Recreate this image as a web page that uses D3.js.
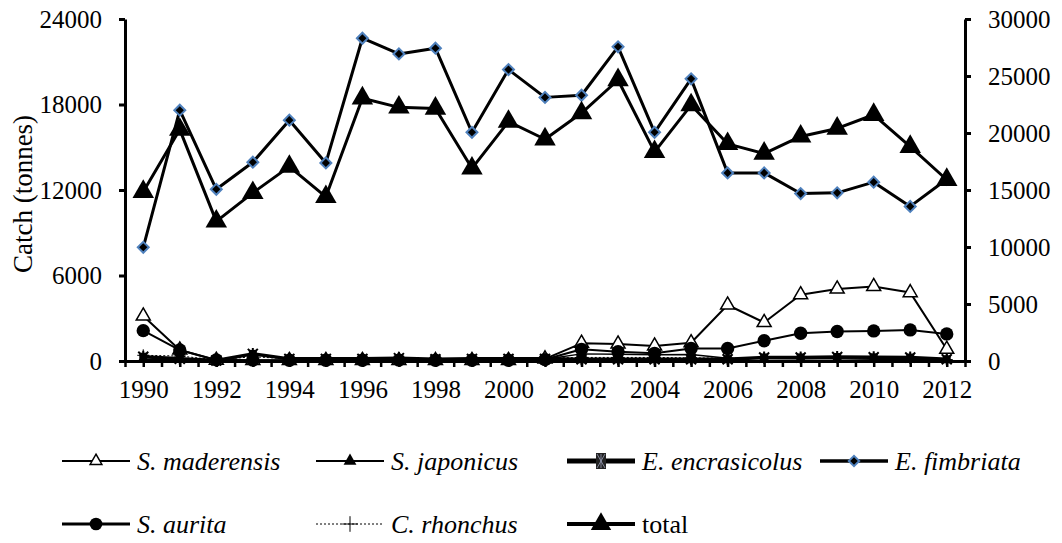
<!DOCTYPE html>
<html>
<head>
<meta charset="utf-8">
<script src="https://cdn.jsdelivr.net/npm/d3@7"></script>
<style>
  html, body { margin: 0; padding: 0; background: #fff; }
  svg { display: block; }
  svg text { font-family: "Liberation Serif", Tinos, "Times New Roman", "DejaVu Serif", serif !important; fill: #000; }
</style>
</head>
<body>
<svg id="chart" width="1062" height="543"></svg>
<script>
// ---- data ----
const years = d3.range(1990, 2013);
const maderensis   = [3160, 770, 50, 40, 30, 30, 30, 30, 30, 30, 30, 150, 1240, 1190, 1050, 1280, 3930, 2700, 4650, 5050, 5230, 4800, 820];
const japonicus    = [100, 80, 30, 40, 30, 30, 40, 40, 30, 40, 40, 120, 500, 470, 430, 460, 200, 180, 150, 150, 130, 110, 80];
const encrasicolus = [300, 150, 40, 500, 150, 150, 150, 200, 120, 150, 150, 150, 120, 120, 120, 120, 120, 250, 250, 280, 260, 240, 120];
const fimbriata    = [7980, 17600, 12050, 13950, 16900, 13900, 22650, 21550, 21950, 16050, 20450, 18500, 18650, 22050, 16050, 19800, 13200, 13200, 11750, 11800, 12550, 10850, 12750];
const aurita       = [2130, 770, 80, 60, 50, 50, 50, 60, 50, 50, 50, 100, 820, 650, 540, 880, 880, 1420, 1950, 2070, 2110, 2180, 1900];
const rhonchus     = [400, 350, 80, 300, 150, 150, 150, 200, 100, 120, 120, 200, 250, 250, 250, 220, 200, 200, 200, 230, 200, 200, 100];
const total        = [14850, 20300, 12250, 14750, 17050, 14400, 23050, 22250, 22150, 16900, 21000, 19450, 21750, 24650, 18350, 22450, 19050, 18200, 19700, 20400, 21600, 18800, 15900];

const leftTicks  = [0, 6000, 12000, 18000, 24000];
const rightTicks = [0, 5000, 10000, 15000, 20000, 25000, 30000];
const yearLabels = d3.range(1990, 2013, 2);
const yTitle = "Catch (tonnes)";

const seriesNames = ["S. maderensis", "S. japonicus", "E. encrasicolus", "E. fimbriata", "S. aurita", "C. rhonchus", "total"];

// ---- layout ----
const FONT = '"Liberation Serif", Tinos, "Times New Roman", "DejaVu Serif", serif';
const svg = d3.select("#chart");
const X0 = 125, X1 = 965, YT = 19, YB = 361;
const x = d3.scaleLinear().domain([1989.5, 2012.5]).range([X0, X1]);
const yL = d3.scaleLinear().domain([0, 24000]).range([YB, YT]);
const yR = d3.scaleLinear().domain([0, 30000]).range([YB, YT]);
const FS = 25;
const fmt = d3.format("d");

const styles = {
  "S. maderensis":   { values: maderensis,   axis: yL, width: 2,   dash: null,  marker: "openTri" },
  "S. japonicus":    { values: japonicus,    axis: yL, width: 1.5, dash: null,  marker: "smallTri" },
  "E. encrasicolus": { values: encrasicolus, axis: yL, width: 3.5, dash: null,  marker: "star" },
  "E. fimbriata":    { values: fimbriata,    axis: yL, width: 3,   dash: null,  marker: "diamond" },
  "S. aurita":       { values: aurita,       axis: yL, width: 2,   dash: null,  marker: "circle" },
  "C. rhonchus":     { values: rhonchus,     axis: yL, width: 1,   dash: "2,2", marker: "plus" },
  "total":           { values: total,        axis: yR, width: 3,   dash: null,  marker: "bigTri" }
};

function drawMarker(g, type, scale) {
  const s = scale || 1;
  if (type === "openTri") {
    g.append("path").attr("d", d3.symbol(d3.symbolTriangle, 85 * s)())
      .attr("fill", "#fff").attr("stroke", "#000").attr("stroke-width", 1.5);
  } else if (type === "smallTri") {
    g.append("path").attr("d", d3.symbol(d3.symbolTriangle, 55 * s)())
      .attr("fill", "#000");
  } else if (type === "bigTri") {
    g.append("path").attr("d", d3.symbol(d3.symbolTriangle, 200 * s)())
      .attr("fill", "#000");
  } else if (type === "circle") {
    g.append("path").attr("d", d3.symbol(d3.symbolCircle, 140 * s)())
      .attr("fill", "#000");
  } else if (type === "diamond") {
    g.append("path").attr("d", d3.symbol(d3.symbolSquare, 60 * s)())
      .attr("transform", "rotate(45)")
      .attr("fill", "#000").attr("stroke", "#4F81BD").attr("stroke-width", 2);
  } else if (type === "plus") {
    const r = 6 * s;
    g.append("path").attr("d", `M${-r},0H${r}M0,${-r}V${r}`)
      .attr("stroke", "#000").attr("stroke-width", 1).attr("fill", "none");
  } else if (type === "star") {
    const r = 5 * s;
    g.append("path").attr("d", d3.symbol(d3.symbolSquare, 64 * s)()).attr("fill", "#000");
    g.append("path").attr("d", `M${-r},${-r}L${r},${r}M${-r},${r}L${r},${-r}M0,${-r - 1}V${r + 1}`)
      .attr("stroke", "#000").attr("stroke-width", 2).attr("fill", "none");
  }
}

// ---- axes ----
const axisStroke = 3;

const xTickVals = d3.range(1989.5, 2012.51, 0.5);
const xAxis = svg.append("g").attr("transform", `translate(0,${YB})`)
  .call(d3.axisBottom(x).tickValues(xTickVals).tickSize(6).tickSizeOuter(0)
    .tickFormat(d => yearLabels.includes(d) ? fmt(d) : ""));
xAxis.attr("font-family", FONT);
xAxis.select(".domain").attr("stroke", "#000").attr("stroke-width", axisStroke);
xAxis.selectAll(".tick line").attr("stroke", "#000").attr("stroke-width", 2.5);
xAxis.selectAll(".tick text").attr("y", 37).attr("dy", 0).attr("font-size", FS);

const lAxis = svg.append("g").attr("transform", `translate(${X0},0)`)
  .call(d3.axisLeft(yL).tickValues(leftTicks).tickFormat(fmt).tickSize(6).tickSizeOuter(0).tickPadding(17));
lAxis.attr("font-family", FONT);
lAxis.select(".domain").attr("stroke", "#000").attr("stroke-width", axisStroke);
lAxis.selectAll(".tick line").attr("stroke", "#000").attr("stroke-width", 3);
lAxis.selectAll(".tick text").attr("font-size", FS);

const rAxis = svg.append("g").attr("transform", `translate(${X1},0)`)
  .call(d3.axisRight(yR).tickValues(rightTicks).tickFormat(fmt).tickSize(6).tickSizeOuter(0).tickPadding(17));
rAxis.attr("font-family", FONT);
rAxis.select(".domain").attr("stroke", "#000").attr("stroke-width", axisStroke);
rAxis.selectAll(".tick line").attr("stroke", "#000").attr("stroke-width", 3);
rAxis.selectAll(".tick text").attr("font-size", FS);

svg.append("text")
  .attr("transform", `translate(23,${(YT + YB) / 2 + 4}) rotate(-90)`)
  .attr("text-anchor", "middle").attr("dy", "0.35em")
  .attr("font-family", FONT)
  .attr("font-size", 27)
  .text(yTitle);

// ---- series ----
const drawOrder = ["C. rhonchus", "S. japonicus", "E. encrasicolus", "S. maderensis", "S. aurita", "E. fimbriata", "total"];
const plot = svg.append("g");
drawOrder.forEach(name => {
  const st = styles[name];
  const line = d3.line().x((d, i) => x(years[i])).y(d => st.axis(d));
  plot.append("path").datum(st.values)
    .attr("d", line).attr("fill", "none")
    .attr("stroke", "#000").attr("stroke-width", st.width)
    .attr("stroke-dasharray", st.dash)
    .attr("stroke-linejoin", "round");
});
drawOrder.forEach(name => {
  const st = styles[name];
  st.values.forEach((v, i) => {
    const g = plot.append("g").attr("transform", `translate(${x(years[i])},${st.axis(v)})`);
    drawMarker(g, st.marker, 1);
  });
});

// ---- legend ----
const legendPos = [
  { x: 62, y: 461 }, { x: 316, y: 461 }, { x: 567, y: 461 }, { x: 820, y: 461 },
  { x: 62, y: 524 }, { x: 316, y: 524 }, { x: 567, y: 524 }
];
const legendLineW = { "S. maderensis": 2, "S. japonicus": 2, "E. encrasicolus": 5, "E. fimbriata": 3.5, "S. aurita": 3, "C. rhonchus": 1, "total": 4 };
const legendMarkScale = { "S. maderensis": 0.7, "S. japonicus": 1.3, "E. encrasicolus": 1.2, "E. fimbriata": 0.9, "S. aurita": 0.9, "C. rhonchus": 1.3, "total": 0.9 };
seriesNames.forEach((name, k) => {
  const st = styles[name];
  const p = legendPos[k];
  const g = svg.append("g").attr("transform", `translate(${p.x},${p.y})`);
  g.append("line").attr("x1", 0).attr("x2", 68).attr("y1", 0).attr("y2", 0)
    .attr("stroke", "#000").attr("stroke-width", legendLineW[name])
    .attr("stroke-dasharray", st.dash);
  const m = g.append("g").attr("transform", "translate(34,0)");
  if (name === "E. encrasicolus") {
    m.append("rect").attr("x", -5).attr("y", -8).attr("width", 10).attr("height", 16).attr("fill", "#222");
    m.append("path").attr("d", "M-4,-7L4,7M-4,7L4,-7M0,-7V7").attr("stroke", "#9aa0b8").attr("stroke-width", 0.8);
  } else {
    drawMarker(m, st.marker, legendMarkScale[name]);
  }
  g.append("text").attr("x", 75).attr("dy", "0.35em")
    .attr("font-family", FONT)
    .attr("font-size", 26)
    .attr("font-style", name === "total" ? "normal" : "italic")
    .text(name);
});
</script>
</body>
</html>
